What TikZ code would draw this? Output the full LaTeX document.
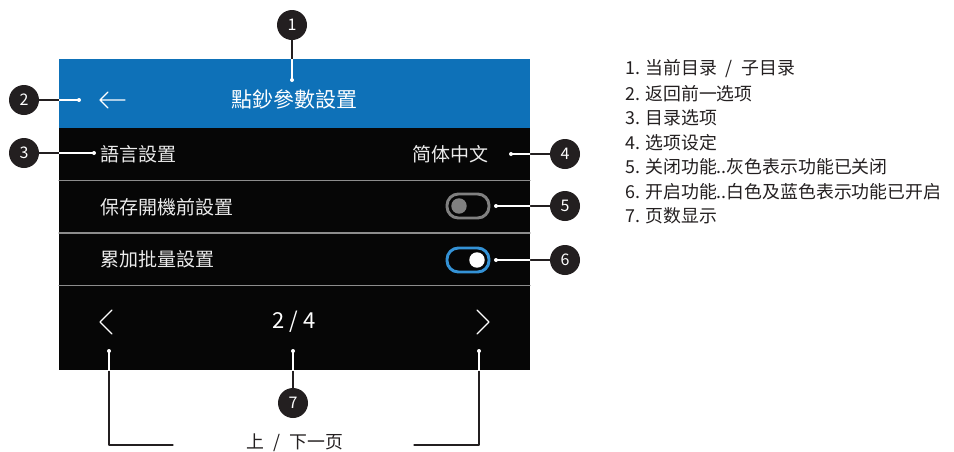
\documentclass[tikz,border=0pt]{standalone}
\usepackage{fontspec}
\setmainfont{Noto Sans CJK SC}
\newfontfamily\tcfont{Noto Sans CJK TC}
\definecolor{barblue}{RGB}{14,113,184}
\definecolor{screenbg}{RGB}{6,6,6}
\definecolor{ink}{RGB}{35,31,32}
\definecolor{onblue}{RGB}{52,146,214}
\definecolor{offgray}{RGB}{128,128,128}
\definecolor{rulegray}{RGB}{140,140,140}
\begin{document}
\begin{tikzpicture}[x=0.75pt,y=-0.75pt,line join=round,line cap=round,
	num/.style={circle,fill=ink,text=white,minimum size=22.5pt,inner sep=0pt,font=\fontsize{12}{12}\selectfont},
	lead/.style={line width=0.8pt},
	rowtext/.style={text=white!92!black,anchor=west,inner sep=0pt,font=\tcfont\fontsize{14.25}{14.25}\selectfont},
	legend/.style={anchor=west,inner sep=0pt,text=ink,font=\fontsize{13.4}{13.4}\selectfont}]
			\useasboundingbox (0,0) rectangle (954,451);
			\fill[screenbg] (59,59) rectangle (530,370);
			\fill[barblue] (59,59) rectangle (530,127.5);
			\foreach \y in {180.5,233,285.5}{\draw[rulegray,line width=0.8pt]
				(59,\y)--(530,\y);}
			\node[text=white,font=\tcfont\fontsize{15.75}{15.75}\selectfont] (title) at (294,99) {點鈔參數設置};
			\draw[white,line width=1pt] (100,100)--(125,100) (108,92)--(100,100)--(108,108);
			\node[rowtext] (lang) at (100,154) {語言設置};
			\node[rowtext,anchor=east,font=\fontsize{14.25}{14.25}\selectfont] (langval) at (489,154) {简体中文};
			\node[rowtext] (keep) at (100,207) {保存開機前設置};
			\node[rowtext] (accum) at (100,259) {累加批量設置};
			\draw[offgray,line width=2.2pt,rounded corners=8.5pt] (447,194) rectangle (489,218);
			\fill[offgray] (459,206) circle[radius=5.8pt];
			\draw[onblue,line width=2.2pt,rounded corners=8.5pt] (447,248) rectangle (489,272);
			\fill[white] (477,260) circle[radius=5.8pt];
			\draw[white,line width=1pt] (112,310)--(100,322)--(112,334) (477,310)--(489,322)--(477,334);
			\node[text=white,font=\fontsize{16.5}{16.5}\selectfont] (page) at (294,322) {2 / 4};
			\node[num] (n1) at (292,25) {1};
			\node[num] (n2) at (24,100) {2};
			\node[num] (n3) at (24,153) {3};
			\node[num] (n4) at (565,154) {4};
			\node[num] (n5) at (565,206) {5};
			\node[num] (n6) at (565,260) {6};
			\node[num] (n7) at (293,403) {7};
			\coordinate (d1) at (292,80);
			\coordinate (d2) at (79,100);
			\coordinate (d3) at (94,153);
			\coordinate (d4) at (511,154);
			\coordinate (d5) at (496,206);
			\coordinate (d6) at (496,260);
			\coordinate (d7) at (293,351);
			\coordinate (dl) at (109,351);
			\coordinate (dr) at (479,351);
			\coordinate (bl) at (173,445);
			\coordinate (br) at (414,445);
			\node[legend,anchor=center] (pages) at (295,443) {上\enspace{}/\enspace{}下一页};
			\foreach \i in {1,...,7}{\draw[lead,ink]
				(n\i)--(d\i);}
			\draw[lead,ink] (dl)|-(bl) (dr)|-(br);
			\begin{scope}
				\clip (59,59) rectangle (530,370);
				\foreach \i in {1,...,7}{\draw[lead,white]
					(n\i)--(d\i);}
				\draw[lead,white] (dl)|-(bl) (dr)|-(br);
			\end{scope}
			\foreach \d in {d1,d2,d3,d4,d5,d6,d7,dl,dr}{\fill[white]
				(\d) circle[radius=1.5pt];}
			\foreach \t [count=\i] in {当前目录\enspace{}/\enspace{}子目录,返回前一选项,目录选项,选项设定,关闭功能..灰色表示功能已关闭,开启功能..白色及蓝色表示功能已开启,页数显示}{\node[legend]
				(item\i) at (625,{69+24.5*(\i-1)}) {\i. \t};}
	\end{tikzpicture}
\end{document}
